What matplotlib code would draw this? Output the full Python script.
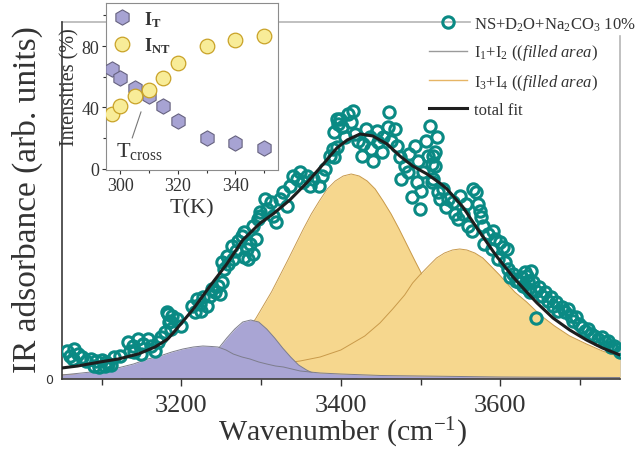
import matplotlib
matplotlib.use("Agg")
import matplotlib.pyplot as plt
from matplotlib.lines import Line2D
from matplotlib.ticker import MultipleLocator

# fonts: Times-like serif everywhere, mathtext in the same family
plt.rcParams['font.family'] = 'Liberation Serif'
plt.rcParams['mathtext.fontset'] = 'custom'
plt.rcParams['mathtext.rm'] = 'Liberation Serif'
plt.rcParams['mathtext.it'] = 'Liberation Serif:italic'
plt.rcParams['mathtext.bf'] = 'Liberation Serif:bold'
plt.rcParams['text.color'] = '#333333'
plt.rcParams['axes.labelcolor'] = '#333333'
plt.rcParams['xtick.color'] = '#333333'
plt.rcParams['ytick.color'] = '#333333'

### data

# measured spectrum (wavenumber, absorbance in arb. units)
data_wn = [3056, 3060, 3066, 3070, 3075, 3064, 3081, 3087, 3093, 3100, 3106, 3108,
           3090, 3097, 3104, 3112, 3116, 3123, 3133, 3139, 3146, 3152, 3135, 3141,
           3150, 3158, 3162, 3167, 3171, 3175, 3179, 3183, 3185, 3187,
           3182, 3188, 3186, 3194, 3200, 3213, 3219, 3217, 3223, 3225, 3227, 3232,
           3236, 3238, 3242, 3246, 3248, 3251, 3251, 3253, 3257, 3259, 3263, 3265,
           3269, 3271, 3276, 3278, 3282, 3284, 3286, 3290, 3294, 3296, 3299,
           3278, 3290, 3299, 3307, 3313, 3305, 3315, 3319, 3324, 3328, 3332, 3336,
           3340, 3345, 3349, 3353, 3357, 3361, 3365, 3372, 3376, 3380, 3386, 3390,
           3392, 3397, 3395,
           3392, 3395, 3399, 3401, 3405, 3409, 3413, 3415, 3418, 3422, 3426, 3428,
           3432, 3436, 3438, 3440, 3445, 3447, 3451, 3453, 3459, 3461, 3463, 3468,
           3470, 3474, 3476, 3480, 3484, 3486, 3489, 3493, 3495, 3497, 3499, 3501,
           3503, 3507, 3509, 3512, 3514, 3516, 3518, 3520,
           3516, 3518, 3514, 3522, 3524, 3528, 3532, 3534, 3541, 3543, 3547, 3549,
           3553, 3557, 3560, 3564, 3566, 3570, 3572, 3574, 3576, 3578, 3580, 3585,
           3589, 3591, 3593, 3597, 3599, 3603, 3606, 3608, 3610, 3612, 3616, 3620,
           3624, 3628, 3633, 3635,
           3626, 3631, 3635, 3639, 3641, 3637, 3645, 3645, 3649, 3652, 3656, 3660,
           3664, 3666, 3670, 3672, 3677, 3681, 3685, 3689, 3691, 3695, 3699, 3702,
           3706, 3710, 3714, 3718, 3722, 3727, 3731, 3735, 3739, 3743, 3748, 3750]
data_abs = [0.27, 0.22, 0.29, 0.24, 0.21, 0.19, 0.17, 0.19, 0.17, 0.18, 0.16, 0.14,
            0.12, 0.11, 0.12, 0.13, 0.21, 0.22, 0.36, 0.32, 0.39, 0.34, 0.27, 0.26,
            0.24, 0.39, 0.32, 0.27, 0.36, 0.41, 0.46, 0.64, 0.56, 0.49,
            0.66, 0.62, 0.57, 0.59, 0.52, 0.72, 0.79, 0.66, 0.74, 0.67, 0.81, 0.72,
            0.82, 0.89, 0.86, 0.92, 0.84, 0.96, 1.16, 1.09, 1.22, 1.14, 1.32, 1.19,
            1.27, 1.37, 1.42, 1.21, 1.29, 1.19, 1.34, 1.24, 1.39, 1.59, 1.66,
            1.46, 1.52, 1.62, 1.69, 1.76, 1.79, 1.62, 1.56, 1.79, 1.86, 1.72, 1.92,
            2.02, 1.99, 2.06, 1.96, 2.02, 1.92, 1.99, 1.92, 2.02, 2.09, 2.22, 2.29,
            2.46, 2.54, 2.59,
            2.21, 2.31, 2.59, 2.51, 2.41, 2.64, 2.56, 2.67, 2.44, 2.37, 2.22, 2.34,
            2.49, 2.41, 2.29, 2.17, 2.47, 2.36, 2.26, 2.41, 2.51, 2.66, 2.37, 2.49,
            2.32, 2.21, 1.99, 2.12, 2.06, 2.24, 1.81, 2.32, 1.96, 2.17, 1.69, 1.87,
            2.06, 2.37, 2.22, 2.52, 2.14, 1.99, 2.26, 2.41,
            2.22, 2.12, 1.96, 1.86, 1.79, 1.89, 1.71, 1.79, 1.76, 1.64, 1.59, 1.82,
            1.64, 1.74, 1.52, 1.47, 1.89, 1.86, 1.74, 1.67, 1.61, 1.52, 1.34, 1.44,
            1.29, 1.47, 1.39, 1.19, 1.36, 1.31, 1.16, 1.29, 1.09, 1.01, 1.04, 0.97,
            0.96, 0.92, 1.02, 0.89,
            1.01, 1.06, 0.97, 1.07, 0.96, 0.86, 0.87, 0.60, 0.91, 0.82, 0.86, 0.77,
            0.81, 0.72, 0.76, 0.67, 0.71, 0.66, 0.69, 0.62, 0.57, 0.61, 0.54, 0.51,
            0.47, 0.49, 0.44, 0.42, 0.39, 0.41, 0.36, 0.37, 0.31, 0.32, 0.29, 0.26]

# total fit
fit_wn = [3050, 3070, 3098, 3121, 3146, 3167, 3183, 3194, 3215, 3236, 3257, 3277,
          3299, 3315, 3336, 3357, 3377, 3395, 3408, 3424, 3440, 3458, 3474, 3490,
          3508, 3524, 3533, 3553, 3574, 3595, 3616, 3633, 3646, 3666, 3687, 3708,
          3728, 3750]
fit_abs = [0.10, 0.12, 0.16, 0.19, 0.24, 0.31, 0.39, 0.49, 0.69, 0.92, 1.14, 1.38,
           1.55, 1.64, 1.78, 1.95, 2.13, 2.30, 2.38, 2.44, 2.42, 2.34, 2.22, 2.12,
           2.04, 1.95, 1.89, 1.71, 1.46, 1.22, 1.01, 0.86, 0.75, 0.60, 0.48, 0.38,
           0.30, 0.23]

# component I1
i1_wn = [3050, 3075, 3098, 3120, 3140, 3158, 3173, 3188, 3202, 3215, 3227, 3238,
         3246, 3256, 3265, 3276, 3286, 3297, 3307, 3318, 3328, 3349, 3374, 3400,
         3450, 3500, 3550, 3600, 3650, 3750]
i1_abs = [0.03, 0.05, 0.07, 0.10, 0.14, 0.19, 0.22, 0.26, 0.29, 0.31, 0.32, 0.315,
          0.31, 0.28, 0.24, 0.21, 0.19, 0.16, 0.14, 0.12, 0.11, 0.07, 0.05, 0.04,
          0.025, 0.02, 0.015, 0.01, 0.008, 0.005]

# component I2
i2_wn = [3150, 3187, 3207, 3217, 3227, 3237, 3247, 3257, 3267, 3277, 3287, 3297,
         3307, 3317, 3327, 3337, 3347, 3357, 3367, 3387, 3420]
i2_abs = [0.0, 0.01, 0.04, 0.08, 0.13, 0.21, 0.30, 0.40, 0.49, 0.56, 0.58, 0.56,
          0.49, 0.40, 0.30, 0.21, 0.13, 0.08, 0.04, 0.01, 0.0]

# component I3
i3_wn = [3050, 3113, 3163, 3213, 3233, 3253, 3273, 3293, 3313, 3333, 3353, 3363,
         3373, 3383, 3393, 3403, 3413, 3423, 3433, 3443, 3453, 3463, 3473, 3493,
         3513, 3533, 3553, 3573, 3593, 3613, 3663, 3713, 3750]
i3_abs = [0.01, 0.02, 0.04, 0.10, 0.16, 0.25, 0.39, 0.59, 0.86, 1.17, 1.49, 1.64,
          1.77, 1.89, 1.97, 2.02, 2.04, 2.02, 1.97, 1.89, 1.77, 1.64, 1.49, 1.17,
          0.86, 0.59, 0.39, 0.25, 0.16, 0.10, 0.04, 0.02, 0.015]

# component I4
i4_wn = [3050, 3150, 3250, 3300, 3349, 3374, 3400, 3415, 3430, 3449, 3465, 3480,
         3490, 3499, 3510, 3520, 3530, 3540, 3549, 3558, 3568, 3578, 3588, 3599,
         3608, 3618, 3633, 3650, 3668, 3687, 3708, 3728, 3750]
i4_abs = [0.03, 0.05, 0.09, 0.12, 0.17, 0.21, 0.28, 0.35, 0.42, 0.55, 0.69, 0.83,
          0.95, 1.03, 1.12, 1.20, 1.25, 1.28, 1.29, 1.28, 1.25, 1.20, 1.12, 1.03,
          0.95, 0.86, 0.76, 0.63, 0.52, 0.42, 0.34, 0.27, 0.21]

# inset: intensities vs temperature
temp_k = [297, 300, 305, 310, 315, 320, 330, 340, 350]
int_t = [64.9, 59.0, 52.4, 47.6, 40.9, 31.1, 20.1, 16.9, 13.6]
int_nt = [35.7, 40.7, 47.2, 51.3, 59.0, 69.2, 80.0, 83.9, 86.5]

# colours
c_teal = '#0a8a84'
c_purple = '#a9a5d4'
c_purple_edge = '#7d7d8c'
c_yellow = '#f6d78e'
c_yellow_edge = '#c99a4a'

### main plot
fig = plt.figure(figsize=(6.41, 4.52), dpi=100)
ax = fig.add_axes([0.0963, 0.1593, 0.8709, 0.7892])

# filled components (yellow below, purple on top)
ax.fill_between(i3_wn, i3_abs, color=c_yellow, lw=0, zorder=1)
ax.plot(i3_wn, i3_abs, color=c_yellow_edge, lw=0.7, zorder=1.1)
ax.fill_between(i4_wn, i4_abs, color=c_yellow, lw=0, zorder=1.2)
ax.plot(i4_wn, i4_abs, color=c_yellow_edge, lw=0.7, zorder=1.3)
ax.fill_between(i2_wn, i2_abs, color=c_purple, lw=0, zorder=1.4)
ax.plot(i2_wn, i2_abs, color=c_purple_edge, lw=0.7, zorder=1.5)
ax.fill_between(i1_wn, i1_abs, color=c_purple, lw=0, zorder=1.6)
ax.plot(i1_wn, i1_abs, color=c_purple_edge, lw=0.7, zorder=1.7)

# data and fit
ax.plot(data_wn, data_abs, 'o', ms=8.2, mfc='none', mec=c_teal, mew=2.2, zorder=5)
ax.plot(fit_wn, fit_abs, color='#1e1e1e', lw=2.2, zorder=6)

ax.set_xlim(3050, 3750)
ax.set_ylim(-0.01, 3.557)

# axes frame: dark left/bottom, light top/right (interrupted by the legend)
for side in ['left', 'bottom']:
    ax.spines[side].set_color('#3a3a3a')
    ax.spines[side].set_linewidth(1.2)
ax.spines['top'].set_visible(False)
ax.spines['right'].set_visible(False)
ax.plot([0, 0.731], [1, 1], transform=ax.transAxes, color='#b5b5b5', lw=1.2,
        clip_on=False, zorder=0.5)
ax.plot([1, 1], [0, 0.9616], transform=ax.transAxes, color='#b5b5b5', lw=1.2,
        clip_on=False, zorder=0.5)

ax.set_xticks([3200, 3400, 3600])
ax.xaxis.set_minor_locator(MultipleLocator(100))
ax.tick_params(axis='x', which='major', direction='out', length=5, width=1,
               labelsize=19, pad=6)
ax.tick_params(axis='x', which='minor', direction='out', length=4, width=1)
ax.set_yticks([0])
ax.set_yticklabels(['0'], fontfamily='DejaVu Sans', fontsize=9)
ax.tick_params(axis='y', length=0, pad=6)

ax.set_xlabel('Wavenumber (cm$^{-1}$)', fontsize=21.5)
ax.xaxis.set_label_coords(0.502, -0.1)
ax.set_ylabel('IR adsorbance (arb. units)', fontsize=24)
ax.yaxis.set_label_coords(-0.034, 0.505)

# legend
handles = [Line2D([], [], ls='none', marker='o', ms=8.2, mfc='none', mec=c_teal, mew=2.2),
           Line2D([], [], color='#9a9a9a', lw=1.0),
           Line2D([], [], color='#e6b565', lw=1.0),
           Line2D([], [], color='#1e1e1e', lw=2.2)]
labels = ['NS+D$_2$O+Na$_2$CO$_3$ 10%',
          r'I$_1$+I$_2$ (($\it{filled\ area}$)',
          r'I$_3$+I$_4$ (($\it{filled\ area}$)',
          'total fit']
fig.legend(handles, labels, loc='upper left', bbox_to_anchor=(0.669, 0.964),
           frameon=False, fontsize=12, handlelength=2.3, handletextpad=0.4,
           labelspacing=0.58, borderpad=0, borderaxespad=0)

### inset
iax = fig.add_axes([0.1654, 0.6223, 0.2688, 0.3689])
iax.set_facecolor('white')
iax.plot(temp_k, int_t, 'h', ms=11, mfc='#a7a3d3', mec='#66627f', mew=0.8,
         ls='none', label=r'$\mathbf{I_T}$', zorder=3)
iax.plot(temp_k, int_nt, 'o', ms=10.5, mfc='#f8ec98', mec='#c9a227', mew=0.9,
         ls='none', label=r'$\mathbf{I_{NT}}$', zorder=4)
iax.set_xlim(295, 355)
iax.set_ylim(-0.5, 108)
iax.set_xticks([300, 320, 340])
iax.set_yticks([0, 40, 80])
iax.xaxis.set_minor_locator(MultipleLocator(10))
iax.yaxis.set_minor_locator(MultipleLocator(20))
iax.tick_params(which='major', direction='out', length=3, width=0.8, labelsize=13, pad=2)
iax.tick_params(which='minor', direction='out', length=2, width=0.8)
for side in iax.spines:
    iax.spines[side].set_color('#8c8c8c')
    iax.spines[side].set_linewidth(0.8)
iax.set_xlabel('T(K)', fontsize=16, labelpad=3)
iax.set_ylabel('Intensities (%)', fontsize=14.5, labelpad=1)
iax.legend(loc='upper left', bbox_to_anchor=(0.04, 0.965), frameon=False,
           fontsize=13, handlelength=1.0, handletextpad=0.7, labelspacing=0.35,
           borderpad=0, borderaxespad=0)

iax.annotate('', xy=(307.5, 38.9), xytext=(303.8, 18.4),
             arrowprops=dict(arrowstyle='-', color='#777777', lw=0.8))
iax.text(298.4, 8.4, r'T$_{\mathrm{cross}}$', fontsize=16, ha='left', va='baseline')

plt.savefig("out.png", dpi=100)
